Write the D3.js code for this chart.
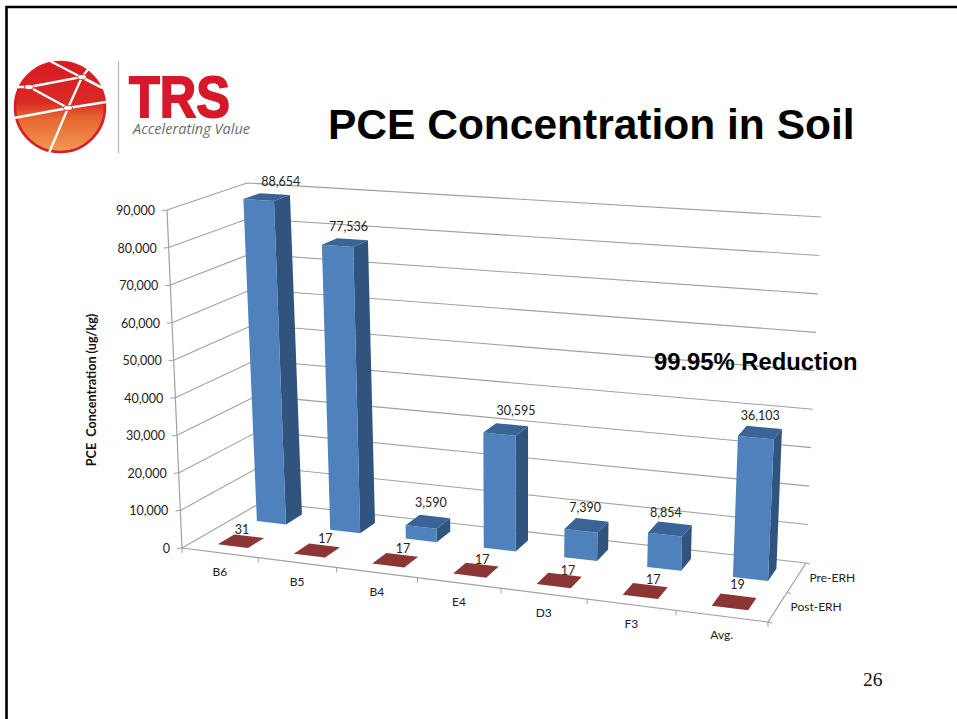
<!DOCTYPE html>
<html><head><meta charset="utf-8">
<script src="https://cdn.jsdelivr.net/npm/d3@7"></script>
<style>html,body{margin:0;padding:0;background:#fff;overflow:hidden}svg{display:block}</style>
</head><body><svg id="c" width="957" height="719"></svg>
<script>
const categories=["B6","B5","B4","E4","D3","F3","Avg."];
const preERH=[88654,77536,3590,30595,7390,8854,36103];
const postERH=[31,17,17,17,17,17,19];
const rows=["Post-ERH","Pre-ERH"];
const valueTicks=[0,10000,20000,30000,40000,50000,60000,70000,80000,90000];
const title="PCE Concentration in Soil";
const note="99.95% Reduction";
const axisTitle="PCE  Concentration (ug/kg)";

// hand placement of data labels, as in the slide (layout only)
const preNudge=[[6,-8],[-4,-8],[-4,-10],[4,-10],[-7,-8],[-9,-6],[-4,-7]];
const postNudge=[[-7,-2],[1,-2],[1,-2],[0,-1],[3,0],[3,-1],[-1,-7]];

const svg=d3.select("#c");
// projection frame: cube corners on the page
const FL0=[182,548],BL0=[262,502],BR0=[806,563],FR0=[768,622];
const FLT=[167,210],BLT=[247,183],BRT=[821,217],FRT=[785,252];
const lerp=(a,b,t)=>[a[0]+(b[0]-a[0])*t,a[1]+(b[1]-a[1])*t];
const vScale=d3.scaleLinear().domain([0,90000]).range([0,1]);
const uScale=d3.scaleBand().domain(categories).range([0,1]).paddingInner(.6).paddingOuter(.3).align(.54);
const dScale=d3.scaleBand().domain(rows).range([0,1]).paddingInner(.58).paddingOuter(.29);
const warp=u=>u/(1+.116*(1-u));
function P(u,d,v){
  const w=warp(u),t=vScale(v);
  const floor=lerp(lerp(FL0,FR0,w),lerp(BL0,BR0,w),d);
  const top=lerp(lerp(FLT,FRT,w),lerp(BLT,BRT,w),d);
  return lerp(floor,top,t);
}
const line=d3.line();
const GRID="#a0a0a0";
const plot=svg.append("g");
// walls
valueTicks.forEach(v=>{
  plot.append("path").attr("d",line([P(0,0,v),P(0,1,v),P(1,1,v)])).attr("fill","none").attr("stroke",GRID).attr("stroke-width",1.1);
  const a=P(0,0,v);
  plot.append("line").attr("x1",a[0]-5).attr("y1",a[1]+.5).attr("x2",a[0]).attr("y2",a[1]).attr("stroke",GRID);
  plot.append("text").attr("x",a[0]-12).attr("y",a[1]+5).attr("text-anchor","end")
    .attr("font-family","Lato").attr("font-size",12.5).attr("fill","#222").text(d3.format(",")(v));
});
plot.append("path").attr("d",line([P(0,0,0),P(0,0,90000)])).attr("fill","none").attr("stroke",GRID).attr("stroke-width",1.2);
// floor edges
plot.append("path").attr("d",line([P(0,0,0),P(1,0,0),P(1,1,0)])).attr("fill","none").attr("stroke",GRID).attr("stroke-width",1.2);
d3.range(0,8).forEach(i=>{
  const a=P(i/7,0,0);
  plot.append("line").attr("x1",a[0]).attr("y1",a[1]).attr("x2",a[0]).attr("y2",a[1]+5).attr("stroke",GRID);
});
[0,.5,1].forEach(d=>{
  const a=P(1,d,0);
  plot.append("line").attr("x1",a[0]).attr("y1",a[1]).attr("x2",a[0]+4).attr("y2",a[1]+1).attr("stroke",GRID);
});
// bars
function bar(cat,row,val,cols){
  const u0=uScale(cat),u1=u0+uScale.bandwidth(),d0=dScale(row),d1=d0+dScale.bandwidth();
  const g=plot.append("g");
  g.append("path").attr("d",line([P(u1,d0,0),P(u1,d1,0),P(u1,d1,val),P(u1,d0,val)])+"Z").attr("fill",cols.side);
  g.append("path").attr("d",line([P(u0,d0,0),P(u1,d0,0),P(u1,d0,val),P(u0,d0,val)])+"Z").attr("fill",cols.front);
  g.append("path").attr("d",line([P(u0,d0,val),P(u1,d0,val),P(u1,d1,val),P(u0,d1,val)])+"Z").attr("fill",cols.top);
}
const blue={front:"#4f81bd",side:"#31547e",top:"#3a6496"};
const red={front:"#953735",side:"#7a2c2b",top:"#8c3535"};
categories.forEach((c,i)=>bar(c,"Pre-ERH",preERH[i],blue));
categories.forEach((c,i)=>bar(c,"Post-ERH",postERH[i],red));
// data labels
function dataLabel(cat,row,val,n){
  const u=uScale(cat)+uScale.bandwidth()/2,d=dScale(row)+dScale.bandwidth();
  const a=P(u,d,val);
  plot.append("text").attr("x",a[0]+n[0]).attr("y",a[1]+n[1]).attr("text-anchor","middle")
    .attr("font-family","Lato").attr("font-size",12.5).attr("fill","#222").text(d3.format(",")(val));
}
categories.forEach((c,i)=>{dataLabel(c,"Pre-ERH",preERH[i],preNudge[i]);dataLabel(c,"Post-ERH",postERH[i],postNudge[i]);});
// category labels
categories.forEach((c,i)=>{
  const a=P((i+.5)/7,0,0);
  plot.append("text").attr("x",a[0]).attr("y",a[1]+23).attr("text-anchor","middle")
    .attr("font-family","Lato").attr("font-size",12).attr("fill","#222").text(c);
});
// depth labels
rows.forEach(r=>{
  const a=P(1,(rows.indexOf(r)+.5)/2,0);
  plot.append("text").attr("x",a[0]+13).attr("y",a[1]+4).attr("font-family","Lato").attr("font-size",12).attr("fill","#222").text(r);
});
svg.append("text").attr("transform","translate(96,390) rotate(-90)").attr("text-anchor","middle")
  .attr("font-family","Lato").attr("font-weight",700).attr("font-size",12.6).attr("fill","#111").style("white-space","pre").text(axisTitle);
// slide text
svg.append("text").attr("x",328).attr("y",139).attr("font-family","Liberation Sans").attr("font-weight",700).attr("font-size",42.5).attr("fill","#000").text(title);
svg.append("text").attr("x",654).attr("y",370).attr("font-family","Liberation Sans").attr("font-weight",700).attr("font-size",23.8).attr("fill","#000").text(note);
svg.append("text").attr("x",863).attr("y",686).attr("font-family","Liberation Serif").attr("font-size",19.5).attr("fill","#111").text("26");
// slide frame
svg.append("path").attr("d","M6.5 719V7H957").attr("fill","none").attr("stroke","#000").attr("stroke-width",2.6);
// logo
const defs=svg.append("defs");
const grad=defs.append("linearGradient").attr("id","lg").attr("x1",0).attr("y1",0).attr("x2",0).attr("y2",1);
[[0,"#d61a24"],[.45,"#d92a24"],[.62,"#e5652f"],[1,"#f49a55"]].forEach(s=>grad.append("stop").attr("offset",s[0]).attr("stop-color",s[1]));
const logo=svg.append("g");
logo.append("circle").attr("cx",60).attr("cy",107).attr("r",45).attr("fill","url(#lg)").attr("stroke","#d91c26").attr("stroke-width",2.5);
[[[50,61],[102,88]],[[15,87],[29,87],[82,77],[94,62]],[[33,89],[68,108]],[[14,118],[68,108],[106,102]],[[49,153],[68,108],[82,77]],[[82,77],[103,88]]].forEach(l=>
  logo.append("path").attr("d",line(l)).attr("fill","none").attr("stroke","#fff").attr("stroke-width",2.4));
[[29,87],[82,77],[68,108]].forEach(p=>logo.append("ellipse").attr("cx",p[0]).attr("cy",p[1]).attr("rx",4.5).attr("ry",2.5).attr("fill","#fff").attr("stroke","#d61a24").attr("stroke-width",.8));
logo.append("line").attr("x1",118.5).attr("y1",61).attr("x2",118.5).attr("y2",153).attr("stroke","#b5b5b5").attr("stroke-width",1.2);
logo.append("text").attr("x",129).attr("y",117).attr("font-family","Liberation Sans").attr("font-weight",700).attr("font-size",57).attr("fill","#d7182a").attr("stroke","#d7182a").attr("stroke-width",1.8).attr("textLength",101).attr("lengthAdjust","spacingAndGlyphs").text("TRS");
logo.append("text").attr("x",133).attr("y",134).attr("font-family","Open Sans").attr("font-style","italic").attr("font-size",15).attr("fill","#6d6d6d").attr("textLength",117).attr("lengthAdjust","spacingAndGlyphs").text("Accelerating Value");
</script></body></html>
